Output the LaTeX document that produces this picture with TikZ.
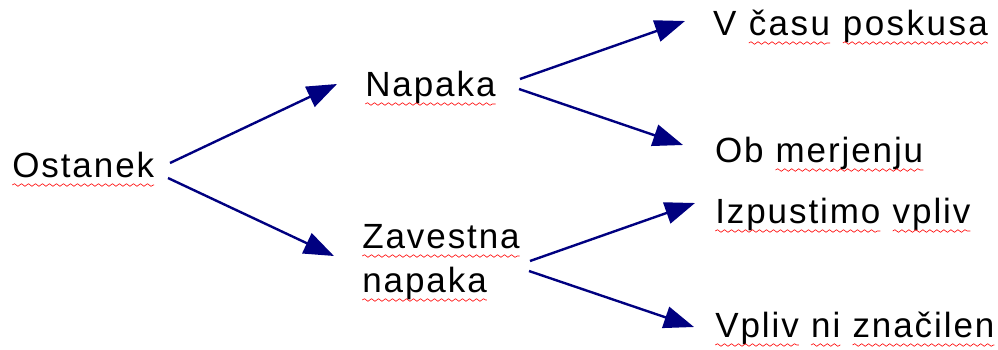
\documentclass[tikz,border=0pt]{standalone}
\usepackage{fontspec}
\setmainfont{Liberation Sans}[LetterSpace=5.5]
\usetikzlibrary{arrows.meta,decorations.pathmorphing}
\definecolor{navy}{RGB}{0,0,128}
\tikzset{
  txt/.style={anchor=base west, inner sep=0pt, outer sep=0pt, font=\fontsize{35pt}{42pt}\selectfont},
  arr/.style={draw=navy, line width=2.4pt, -{Triangle[length=30pt,width=22pt]}},
  wavy/.style={draw=red, line width=0.6pt, decorate, decoration={snake, amplitude=1.3pt, segment length=7pt}}
}
\newcommand\wv[1]{\tikz[baseline=(w.base),x=1pt,y=1pt]{\node[inner sep=0pt,outer sep=0pt,anchor=base] (w) at (0,0) {#1};\draw[wavy] ([yshift=-8pt]w.base west) -- ([yshift=-8pt]w.base east);}}
\begin{document}
\begin{tikzpicture}[x=1pt,y=-1pt]
\useasboundingbox (0,0) rectangle (998,349);
\node[txt] (ost) at (12,177) {\wv{Ostanek}};
\node[txt] (nap) at (365,96) {\wv{Napaka}};
\node[txt] (zav) at (362,248) {\wv{Zavestna}};
\node[txt] (zav2) at (362,292) {\wv{napaka}};
\node[txt] (vc) at (713,35) {\addfontfeature{LetterSpace=7}V \wv{času} \wv{poskusa}};
\node[txt] (ob) at (715,162) {Ob \wv{merjenju}};
\node[txt] (iz) at (715,223) {\wv{Izpustimo} \wv{vpliv}};
\node[txt] (vp) at (715,337) {\wv{Vpliv} \wv{ni} \wv{značilen}};
\draw[arr] ([shift={(158,-14)}]ost.base west) -- ([shift={(-28,-12)}]nap.base west);
\draw[arr] ([shift={(156,1)}]ost.base west) -- ([shift={(-28,8)}]zav.base west);
\draw[arr] ([shift={(155,-17)}]nap.base west) -- ([shift={(-28,-14)}]vc.base west);
\draw[arr] ([shift={(154,-7)}]nap.base west) -- ([shift={(-32,-17)}]ob.base west);
\draw[arr] ([shift={(168,13)}]zav.base west) -- ([shift={(-20,-20)}]iz.base west);
\draw[arr] ([shift={(167,23)}]zav.base west) -- ([shift={(-21,-10)}]vp.base west);
\end{tikzpicture}
\end{document}
